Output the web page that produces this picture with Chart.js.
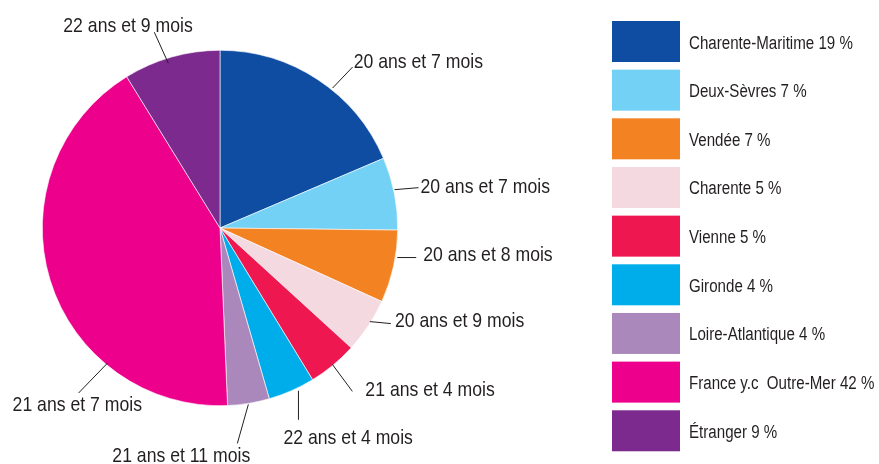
<!DOCTYPE html>
<html>
<head>
<meta charset="utf-8">
<script src="https://cdn.jsdelivr.net/npm/chart.js@4.4.1/dist/chart.umd.min.js"></script>
<style>
  html, body { margin: 0; padding: 0; background: #ffffff; }
  #wrap { width: 879px; height: 464px; }
</style>
</head>
<body>
<div id="wrap"><canvas id="c" width="879" height="464"></canvas></div>
<script>
// ---- Data ----
const regions = ['Charente-Maritime', 'Deux-Sèvres', 'Vendée', 'Charente', 'Vienne',
                 'Gironde', 'Loire-Atlantique', 'France y.c  Outre-Mer', 'Étranger'];
// percentages printed in the legend
const legendPercents = [19, 7, 7, 5, 5, 4, 4, 42, 9];
const sliceShares = [18.6, 6.6, 6.6, 5.0, 4.5, 4.25, 3.8, 41.9, 8.8];
// average age label attached to each slice
const ageLabels = ['20 ans et 7 mois', '20 ans et 7 mois', '20 ans et 8 mois', '20 ans et 9 mois',
                   '21 ans et 4 mois', '22 ans et 4 mois', '21 ans et 11 mois', '21 ans et 7 mois',
                   '22 ans et 9 mois'];
const sliceColors = ['#0e4da1', '#72d1f5', '#f28222', '#f5d9e1', '#ee174f',
                     '#00adeb', '#ab88bc', '#ec008c', '#7d2a8e'];

// ---- Layout of the outside labels (not data): anchor fraction inside slice,
// anchor radius adjustment, leader line vector, text offset from line end
const labelLayout = [
  { f: 0.58, r: 2,  lx: 20,  ly: -21, tx: 1,    ty: 1  },
  { f: 0.45, r: 1,  lx: 24,  ly: -2,  tx: 2,    ty: 5  },
  { f: 0.37, r: 2,  lx: 19,  ly: 0,   tx: 7,    ty: 3  },
  { f: 0.42, r: -1, lx: 21,  ly: 2,   tx: 4,    ty: 3  },
  { f: 0.50, r: -1, lx: 20,  ly: 27,  tx: 13,   ty: 5  },
  { f: 0.37, r: 3,  lx: 0,   ly: 29,  tx: -15,  ty: 24 },
  { f: 0.51, r: 1,  lx: -11, ly: 39,  tx: -125, ty: 19 },
  { f: 0.28, r: -2, lx: -29, ly: 30,  tx: -66,  ty: 18 },
  { f: 0.45, r: -5, lx: -14, ly: -31, tx: -91,  ty: 0  }
];

const TEXT_COLOR = '#231f20';
const FONT_FAMILY = "'Liberation Sans', Arial, sans-serif";
const NARROW = 0.84;

function narrowText(ctx, text, x, y, size) {
  ctx.save();
  ctx.font = size + 'px ' + FONT_FAMILY;
  ctx.fillStyle = TEXT_COLOR;
  ctx.textAlign = 'left';
  ctx.textBaseline = 'alphabetic';
  ctx.translate(x, y);
  ctx.scale(NARROW, 1);
  ctx.fillText(text, 0, 0);
  ctx.restore();
}

const outsideLabels = {
  id: 'outsideLabels',
  afterDatasetsDraw(chart) {
    const ctx = chart.ctx;
    const meta = chart.getDatasetMeta(0);
    meta.data.forEach((arc, i) => {
      const p = arc.getProps(['x', 'y', 'startAngle', 'endAngle', 'outerRadius'], true);
      const L = labelLayout[i];
      const a = p.startAngle + (p.endAngle - p.startAngle) * L.f;
      const rr = p.outerRadius + L.r;
      const ax = p.x + Math.cos(a) * rr;
      const ay = p.y + Math.sin(a) * rr;
      const ex = ax + L.lx, ey = ay + L.ly;
      ctx.save();
      ctx.strokeStyle = TEXT_COLOR;
      ctx.lineWidth = 1;
      ctx.beginPath();
      ctx.moveTo(ax, ay);
      ctx.lineTo(ex, ey);
      ctx.stroke();
      ctx.restore();
      narrowText(ctx, chart.data.datasets[0].ageLabels[i], ex + L.tx, ey + L.ty, 21);
    });
  }
};

const boxLegend = {
  id: 'boxLegend',
  afterDraw(chart) {
    const ctx = chart.ctx;
    const ds = chart.data.datasets[0];
    const left = 612, top0 = 21, step = 48.66, bw = 68, bh = 41;
    chart.data.labels.forEach((lab, i) => {
      const y = top0 + i * step;
      ctx.save();
      ctx.fillStyle = ds.backgroundColor[i];
      ctx.fillRect(left, y, bw, bh);
      ctx.restore();
      narrowText(ctx, lab + ' ' + legendPercents[i] + ' %', 689, y + bh / 2 + 7, 18);
    });
  }
};

new Chart(document.getElementById('c'), {
  type: 'pie',
  data: {
    labels: regions,
    datasets: [{
      data: sliceShares,
      ageLabels: ageLabels,
      backgroundColor: sliceColors,
      borderColor: '#ffffff',
      borderWidth: 0.6
    }]
  },
  options: {
    responsive: false,
    animation: false,
    layout: { padding: { left: 42, top: 50, right: 481, bottom: 58 } },
    plugins: {
      legend: { display: false },
      tooltip: { enabled: false }
    }
  },
  plugins: [outsideLabels, boxLegend]
});
</script>
</body>
</html>
